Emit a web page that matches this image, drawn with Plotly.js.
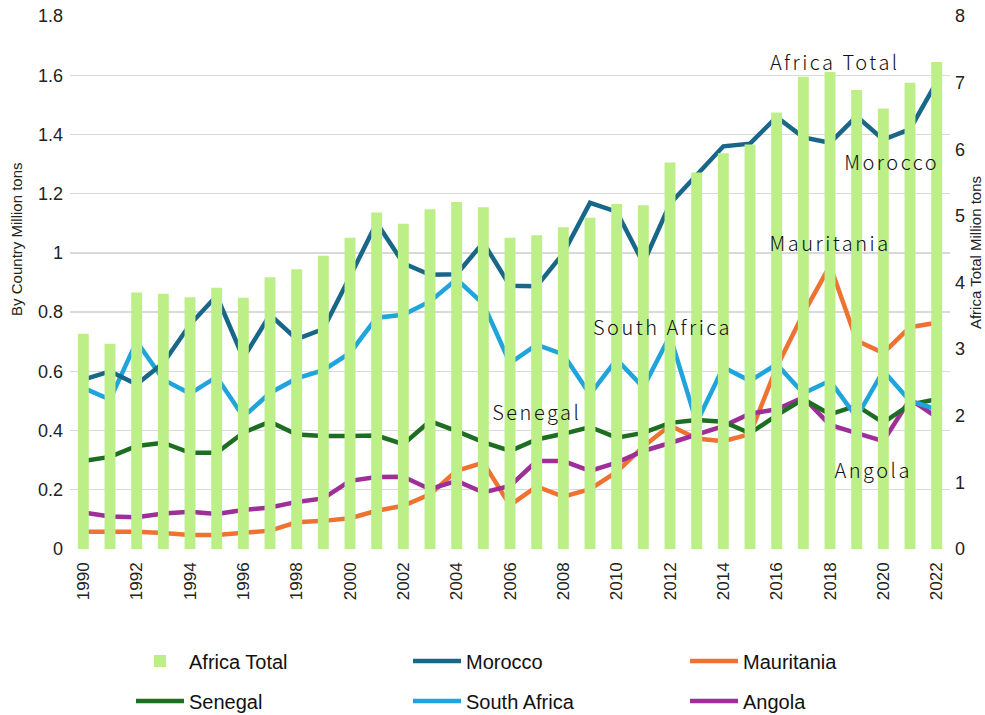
<!DOCTYPE html>
<html>
<head>
<meta charset="utf-8">
<script src="https://cdn.plot.ly/plotly-3.0.1.min.js"></script>
<style>
html,body{margin:0;padding:0;background:#fff;}
#chart{width:985px;height:715px;}
.annotation-text.lbl{letter-spacing:2.5px;}
</style>
</head>
<body>
<div id="chart"></div>
<script>
const years = [1990,1991,1992,1993,1994,1995,1996,1997,1998,1999,2000,2001,2002,2003,2004,2005,2006,2007,2008,2009,2010,2011,2012,2013,2014,2015,2016,2017,2018,2019,2020,2021,2022];
const africaTotal = [3.23,3.08,3.85,3.83,3.78,3.92,3.77,4.08,4.20,4.40,4.67,5.05,4.88,5.10,5.21,5.13,4.67,4.71,4.83,4.97,5.18,5.16,5.80,5.65,5.94,6.07,6.55,7.09,7.16,6.89,6.61,7.00,7.31];
const morocco = [0.572,0.600,0.556,0.628,0.758,0.855,0.645,0.791,0.709,0.743,0.920,1.102,0.965,0.926,0.928,1.035,0.889,0.887,0.999,1.169,1.139,0.965,1.166,1.264,1.360,1.369,1.459,1.390,1.372,1.461,1.382,1.418,1.577];
const mauritania = [0.058,0.059,0.058,0.054,0.047,0.047,0.054,0.062,0.090,0.095,0.104,0.129,0.146,0.185,0.264,0.292,0.148,0.211,0.177,0.202,0.260,0.346,0.417,0.373,0.364,0.388,0.614,0.795,0.957,0.704,0.662,0.749,0.764];
const senegal = [0.297,0.311,0.348,0.359,0.325,0.325,0.393,0.430,0.387,0.382,0.382,0.383,0.354,0.432,0.398,0.361,0.331,0.370,0.389,0.412,0.376,0.392,0.426,0.436,0.430,0.391,0.451,0.506,0.455,0.484,0.427,0.488,0.506];
const southAfrica = [0.544,0.505,0.701,0.572,0.525,0.581,0.447,0.527,0.576,0.604,0.662,0.781,0.791,0.836,0.911,0.828,0.628,0.690,0.657,0.522,0.640,0.546,0.720,0.427,0.614,0.568,0.624,0.526,0.568,0.445,0.602,0.500,0.472];
const angola = [0.123,0.110,0.107,0.120,0.126,0.118,0.132,0.140,0.159,0.171,0.230,0.243,0.244,0.202,0.230,0.191,0.213,0.297,0.297,0.264,0.292,0.331,0.358,0.385,0.415,0.457,0.472,0.512,0.419,0.391,0.364,0.506,0.445];
const xTicks = [1990,1992,1994,1996,1998,2000,2002,2004,2006,2008,2010,2012,2014,2016,2018,2020,2022];
const leftTicks = [0,0.2,0.4,0.6,0.8,1,1.2,1.4,1.6,1.8];
const leftTickText = ['0','0.2','0.4','0.6','0.8','1','1.2','1.4','1.6','1.8'];
const rightTicks = [0,1,2,3,4,5,6,7,8];
const leftAxisTitle = 'By Country Million tons';
const rightAxisTitle = 'Africa Total Million tons';
const seriesLabels = [
  {text:'Africa Total', x:2018.2, y:1.645},
  {text:'Morocco', x:2020.3, y:1.307},
  {text:'Mauritania', x:2018.0, y:1.034},
  {text:'South Africa', x:2011.7, y:0.753},
  {text:'Senegal', x:2007.0, y:0.466},
  {text:'Angola', x:2019.6, y:0.270}
];

const lw = 4.5;
function line(name, y, color, legend){
  return {type:'scatter', mode:'lines', name:name, x:years, y:y, yaxis:'y',
    line:{color:color, width:lw}, legend:legend, hoverinfo:'skip'};
}
const data = [
  {type:'bar', name:'Africa Total', x:years, y:africaTotal, yaxis:'y2', width:0.41,
   marker:{color:'#bdef89'}, legend:'legend', hoverinfo:'skip'},
  line('Mauritania', mauritania, '#ee7331', 'legend3'),
  line('Angola', angola, '#9f2f98', 'legend6'),
  line('Senegal', senegal, '#1e6e22', 'legend4'),
  line('South Africa', southAfrica, '#1fa4dc', 'legend5'),
  line('Morocco', morocco, '#186688', 'legend2')
];

const tickFont = {family:'Liberation Sans, Arial, sans-serif', size:18, color:'#222'};
const legFont = {family:'Liberation Sans, Arial, sans-serif', size:20, color:'#111'};
const titleFont = {family:'Liberation Sans, Arial, sans-serif', size:15, color:'#222'};
function leg(x, y){
  return {orientation:'h', x:x, xanchor:'left', y:y, yanchor:'middle', font:legFont,
    itemwidth:48, bgcolor:'rgba(0,0,0,0)', borderwidth:0};
}
const row1 = -0.2101, row2 = -0.2852;
const col1 = 0.0693, col2 = 0.3841, col3 = 0.6989;
const annotations = seriesLabels.map(l => ({text:l.text, x:l.x, y:l.y, xref:'x', yref:'y', showarrow:false,
    xanchor:'center', yanchor:'middle', font:{family:'Noto Sans CJK JP, sans-serif', size:20, weight:300, color:'#111'}}));
annotations.push({text:leftAxisTitle, xref:'paper', yref:'paper', x:-0.0602, y:0.580, textangle:-90,
  showarrow:false, xanchor:'center', yanchor:'middle', font:titleFont});
annotations.push({text:rightAxisTitle, xref:'paper', yref:'paper', x:1.0284, y:0.557, textangle:-90,
  showarrow:false, xanchor:'center', yanchor:'middle', font:titleFont});
const layout = {
  width:985, height:715,
  margin:{l:70, r:35, t:16, b:166, autoexpand:false},
  paper_bgcolor:'#fff', plot_bgcolor:'#fff',
  showlegend:true,
  xaxis:{range:[1989.5,2022.5], tickmode:'array', tickvals:xTicks, ticktext:xTicks.map(String),
    tickangle:-90, tickfont:{family:'Liberation Sans, Arial, sans-serif', size:17, color:'#222'},
    showgrid:false, zeroline:false, showline:false, ticks:'', ticklen:0, ticklabelstandoff:9},
  yaxis:{range:[0,1.8], tickmode:'array', tickvals:leftTicks, ticktext:leftTickText,
    tickfont:tickFont, showgrid:true, gridcolor:'#d9d9d9', gridwidth:1.3, zeroline:false, showline:false,
    ticks:'', ticklabelstandoff:6},
  yaxis2:{range:[0,8], overlaying:'y', side:'right', tickmode:'array', tickvals:rightTicks,
    tickfont:tickFont, showgrid:false, zeroline:false, showline:false, ticks:'', ticklabelstandoff:4},
  legend:leg(col1,row1), legend2:leg(col2,row1), legend3:leg(col3,row1),
  legend4:leg(col1,row2), legend5:leg(col2,row2), legend6:leg(col3,row2),
  annotations: annotations
};
Plotly.newPlot('chart', data, layout, {displayModeBar:false, staticPlot:true}).then(() => {
  document.querySelectorAll('.annotation-text').forEach(t => {
    if (seriesLabels.some(l => l.text === t.textContent)) t.classList.add('lbl');
  });
});
</script>
</body>
</html>
